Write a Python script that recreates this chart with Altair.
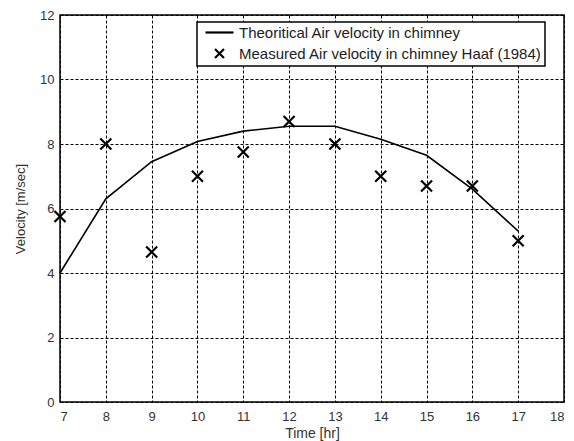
import altair as alt
import pandas as pd

hours = [7, 8, 9, 10, 11, 12, 13, 14, 15, 16, 17]
theory = [4.0, 6.3, 7.45, 8.08, 8.4, 8.55, 8.55, 8.15, 7.65, 6.6, 5.3]
measured = [5.75, 8.0, 4.65, 7.0, 7.75, 8.7, 8.0, 7.0, 6.7, 6.7, 5.0]

S1 = "Theoritical Air velocity in chimney"
S2 = "Measured Air velocity in chimney Haaf (1984)"

df_t = pd.DataFrame({"hour": hours, "v": theory, "series": S1})
df_m = pd.DataFrame({"hour": hours, "v": measured, "series": S2})

FONT = "Liberation Sans"

x = alt.X("hour:Q", scale=alt.Scale(domain=[7, 18], nice=False),
          axis=alt.Axis(title="Time [hr]", values=list(range(7, 19)), grid=True))
y = alt.Y("v:Q", scale=alt.Scale(domain=[0, 12], nice=False),
          axis=alt.Axis(title="Velocity [m/sec]", values=list(range(0, 13, 2)), grid=True))

shape_scale = alt.Scale(domain=[S1, S2],
                        range=["M-2.8,0L2.8,0", "M-0.9,-0.9L0.9,0.9M-0.9,0.9L0.9,-0.9"])

line = alt.Chart(df_t).mark_line(color="black", strokeWidth=1.6).encode(x=x, y=y)

pts = alt.Chart(df_m).mark_point(filled=False, color="black", strokeWidth=2.2, size=150, opacity=1).encode(
    x=x, y=y,
    shape=alt.Shape("series:N", scale=shape_scale,
                    legend=alt.Legend(title=None, orient="none", legendX=137, legendY=7,
                                      fillColor="white", strokeColor="black",
                                      padding=3, symbolSize=100, symbolStrokeWidth=2.2,
                                      symbolStrokeColor="black", symbolOffset=12,
                                      labelFont=FONT, labelFontSize=15, labelColor="#222",
                                      labelOffset=12, rowPadding=3, offset=0,
                                      labelLimit=500)),
)

chart = (line + pts).properties(
    width=504, height=387,
    padding={"left": 60, "top": 15, "right": 10, "bottom": 39},
    autosize=alt.AutoSizeParams(type="none"),
).configure_view(stroke="black", strokeWidth=1.5).configure_axis(
    gridColor="black", gridDash=[3, 2], gridOpacity=1, gridWidth=1,
    domain=False, ticks=False,
    labelFont=FONT, labelFontSize=13, labelColor="#333",
    titleFont=FONT, titleColor="#333", titleFontWeight="normal",
).configure_axisX(titlePadding=3, labelPadding=8, titleFontSize=14).configure_axisY(
    titlePadding=12, labelPadding=6, titleFontSize=13
).configure_legend(fillColor="white", strokeColor="black", strokeWidth=1.5)

chart.save("out.html", embed_options={"renderer": "svg", "actions": False})
